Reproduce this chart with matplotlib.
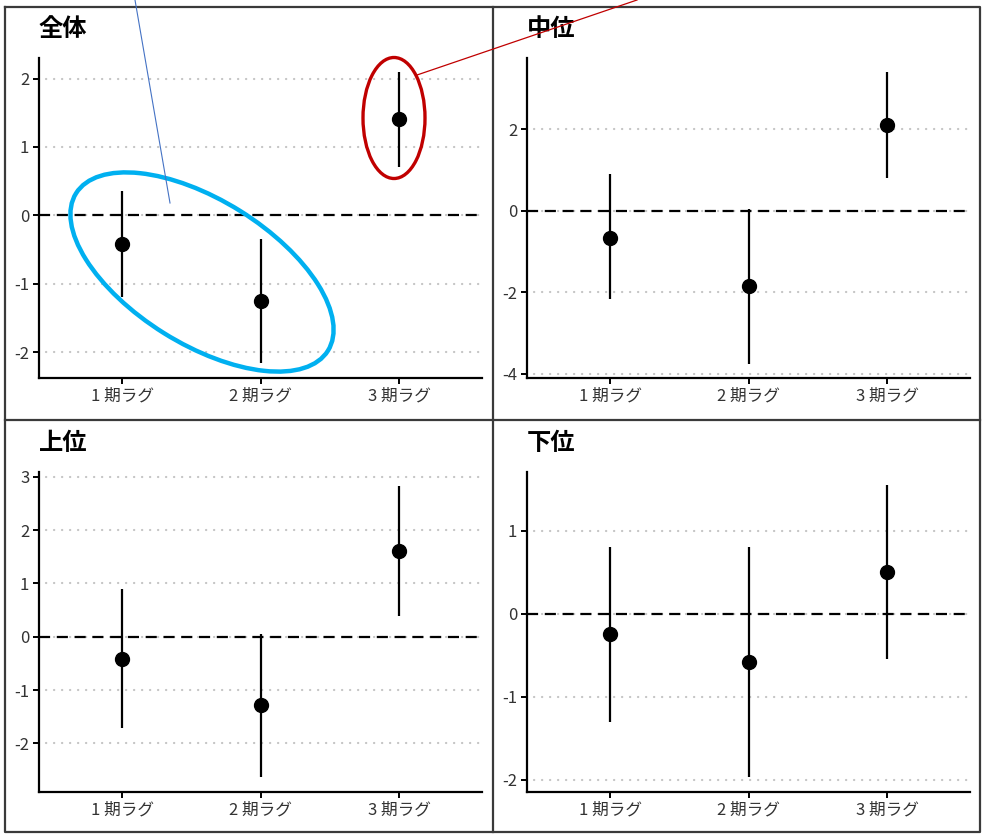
import matplotlib
matplotlib.use("Agg")
import matplotlib.pyplot as plt
from matplotlib.patches import Ellipse
from matplotlib.lines import Line2D

plt.rcParams['font.family'] = ['Noto Sans CJK JP', 'DejaVu Sans']

categories = ["1 期ラグ", "2 期ラグ", "3 期ラグ"]
titles = ["全体", "中位", "上位", "下位"]

est_all = [-0.42, -1.25, 1.41]
lo_all = [-1.19, -2.16, 0.71]
hi_all = [0.35, -0.34, 2.10]

est_mid = [-0.66, -1.85, 2.09]
lo_mid = [-2.17, -3.75, 0.80]
hi_mid = [0.89, 0.03, 3.40]

est_top = [-0.41, -1.28, 1.61]
lo_top = [-1.71, -2.63, 0.39]
hi_top = [0.89, 0.06, 2.83]

est_low = [-0.25, -0.58, 0.50]
lo_low = [-1.30, -1.97, -0.55]
hi_low = [0.80, 0.80, 1.55]

yticks_all = [-2, -1, 0, 1, 2]
yticks_mid = [-4, -2, 0, 2]
yticks_top = [-2, -1, 0, 1, 2, 3]
yticks_low = [-2, -1, 0, 1]

ylims = [(-2.38, 2.3), (-4.1, 3.74), (-2.91, 3.09), (-2.15, 1.71)]

W, H = 989, 835
fig = plt.figure(figsize=(W / 100, H / 100), dpi=100)

def frac(l, t, r, b):
    return [l / W, 1 - b / H, (r - l) / W, (b - t) / H]

rects = [frac(39, 58, 482, 378), frac(527, 58, 970, 378),
         frac(39, 472, 482, 792), frac(527, 472, 970, 792)]
data = [(est_all, lo_all, hi_all, yticks_all),
        (est_mid, lo_mid, hi_mid, yticks_mid),
        (est_top, lo_top, hi_top, yticks_top),
        (est_low, lo_low, hi_low, yticks_low)]

for i, (rect, (est, lo, hi, yt)) in enumerate(zip(rects, data)):
    ax = fig.add_axes(rect)
    x = list(range(1, len(categories) + 1))
    for yv in yt:
        ax.axhline(yv, xmin=0.015, color='#c4c4c4', lw=1.6, linestyle=(0, (0.1, 3.5)),
                   zorder=1, dash_capstyle='round')
    ax.axhline(0, color='black', lw=1.6, linestyle=(0, (5, 3)), zorder=2)
    ax.vlines(x, lo, hi, color='black', lw=1.6, zorder=3)
    ax.plot(x, est, 'o', color='black', markersize=10, zorder=4)
    ax.set_xlim(0.4, 3.6)
    ax.set_ylim(*ylims[i])
    ax.set_xticks(x)
    ax.set_xticklabels(categories)
    ax.set_yticks(yt)
    ax.set_yticklabels([str(v) for v in yt])
    for s in ['top', 'right']:
        ax.spines[s].set_visible(False)
    for s in ['left', 'bottom']:
        ax.spines[s].set_linewidth(1.6)
        ax.spines[s].set_color('black')
    ax.tick_params(axis='both', length=4, width=1.4, colors='black',
                   labelcolor='#333333', labelsize=12, pad=3)
    ax.text(0, 1.0 + 29 / 320, titles[i], transform=ax.transAxes,
            fontsize=17.5, fontweight='bold', ha='left', va='center', color='black')

# overlay for borders and annotations (pixel coordinates)
ov = fig.add_axes([0, 0, 1, 1], zorder=10)
ov.set_xlim(0, W)
ov.set_ylim(H, 0)
ov.axis('off')
ov.patch.set_alpha(0)
bc = '#3a3a3a'
ov.add_line(Line2D([5, 980, 980, 5, 5], [7, 7, 832, 832, 7], color=bc, lw=1.6))
ov.add_line(Line2D([493, 493], [7, 832], color=bc, lw=1.6))
ov.add_line(Line2D([5, 980], [420, 420], color=bc, lw=1.6))

ov.add_patch(Ellipse((202, 272), 297, 144, angle=32, fill=False,
                     edgecolor='#00B0F0', lw=3.2))
ov.add_patch(Ellipse((394, 118), 62, 121, angle=0, fill=False,
                     edgecolor='#C00000', lw=2.4))
ov.add_line(Line2D([135, 170], [0, 203], color='#4472C4', lw=0.8))
ov.add_line(Line2D([417, 637], [75, 0], color='#C00000', lw=0.9))

fig.savefig('out.png', dpi=100, facecolor='white')
